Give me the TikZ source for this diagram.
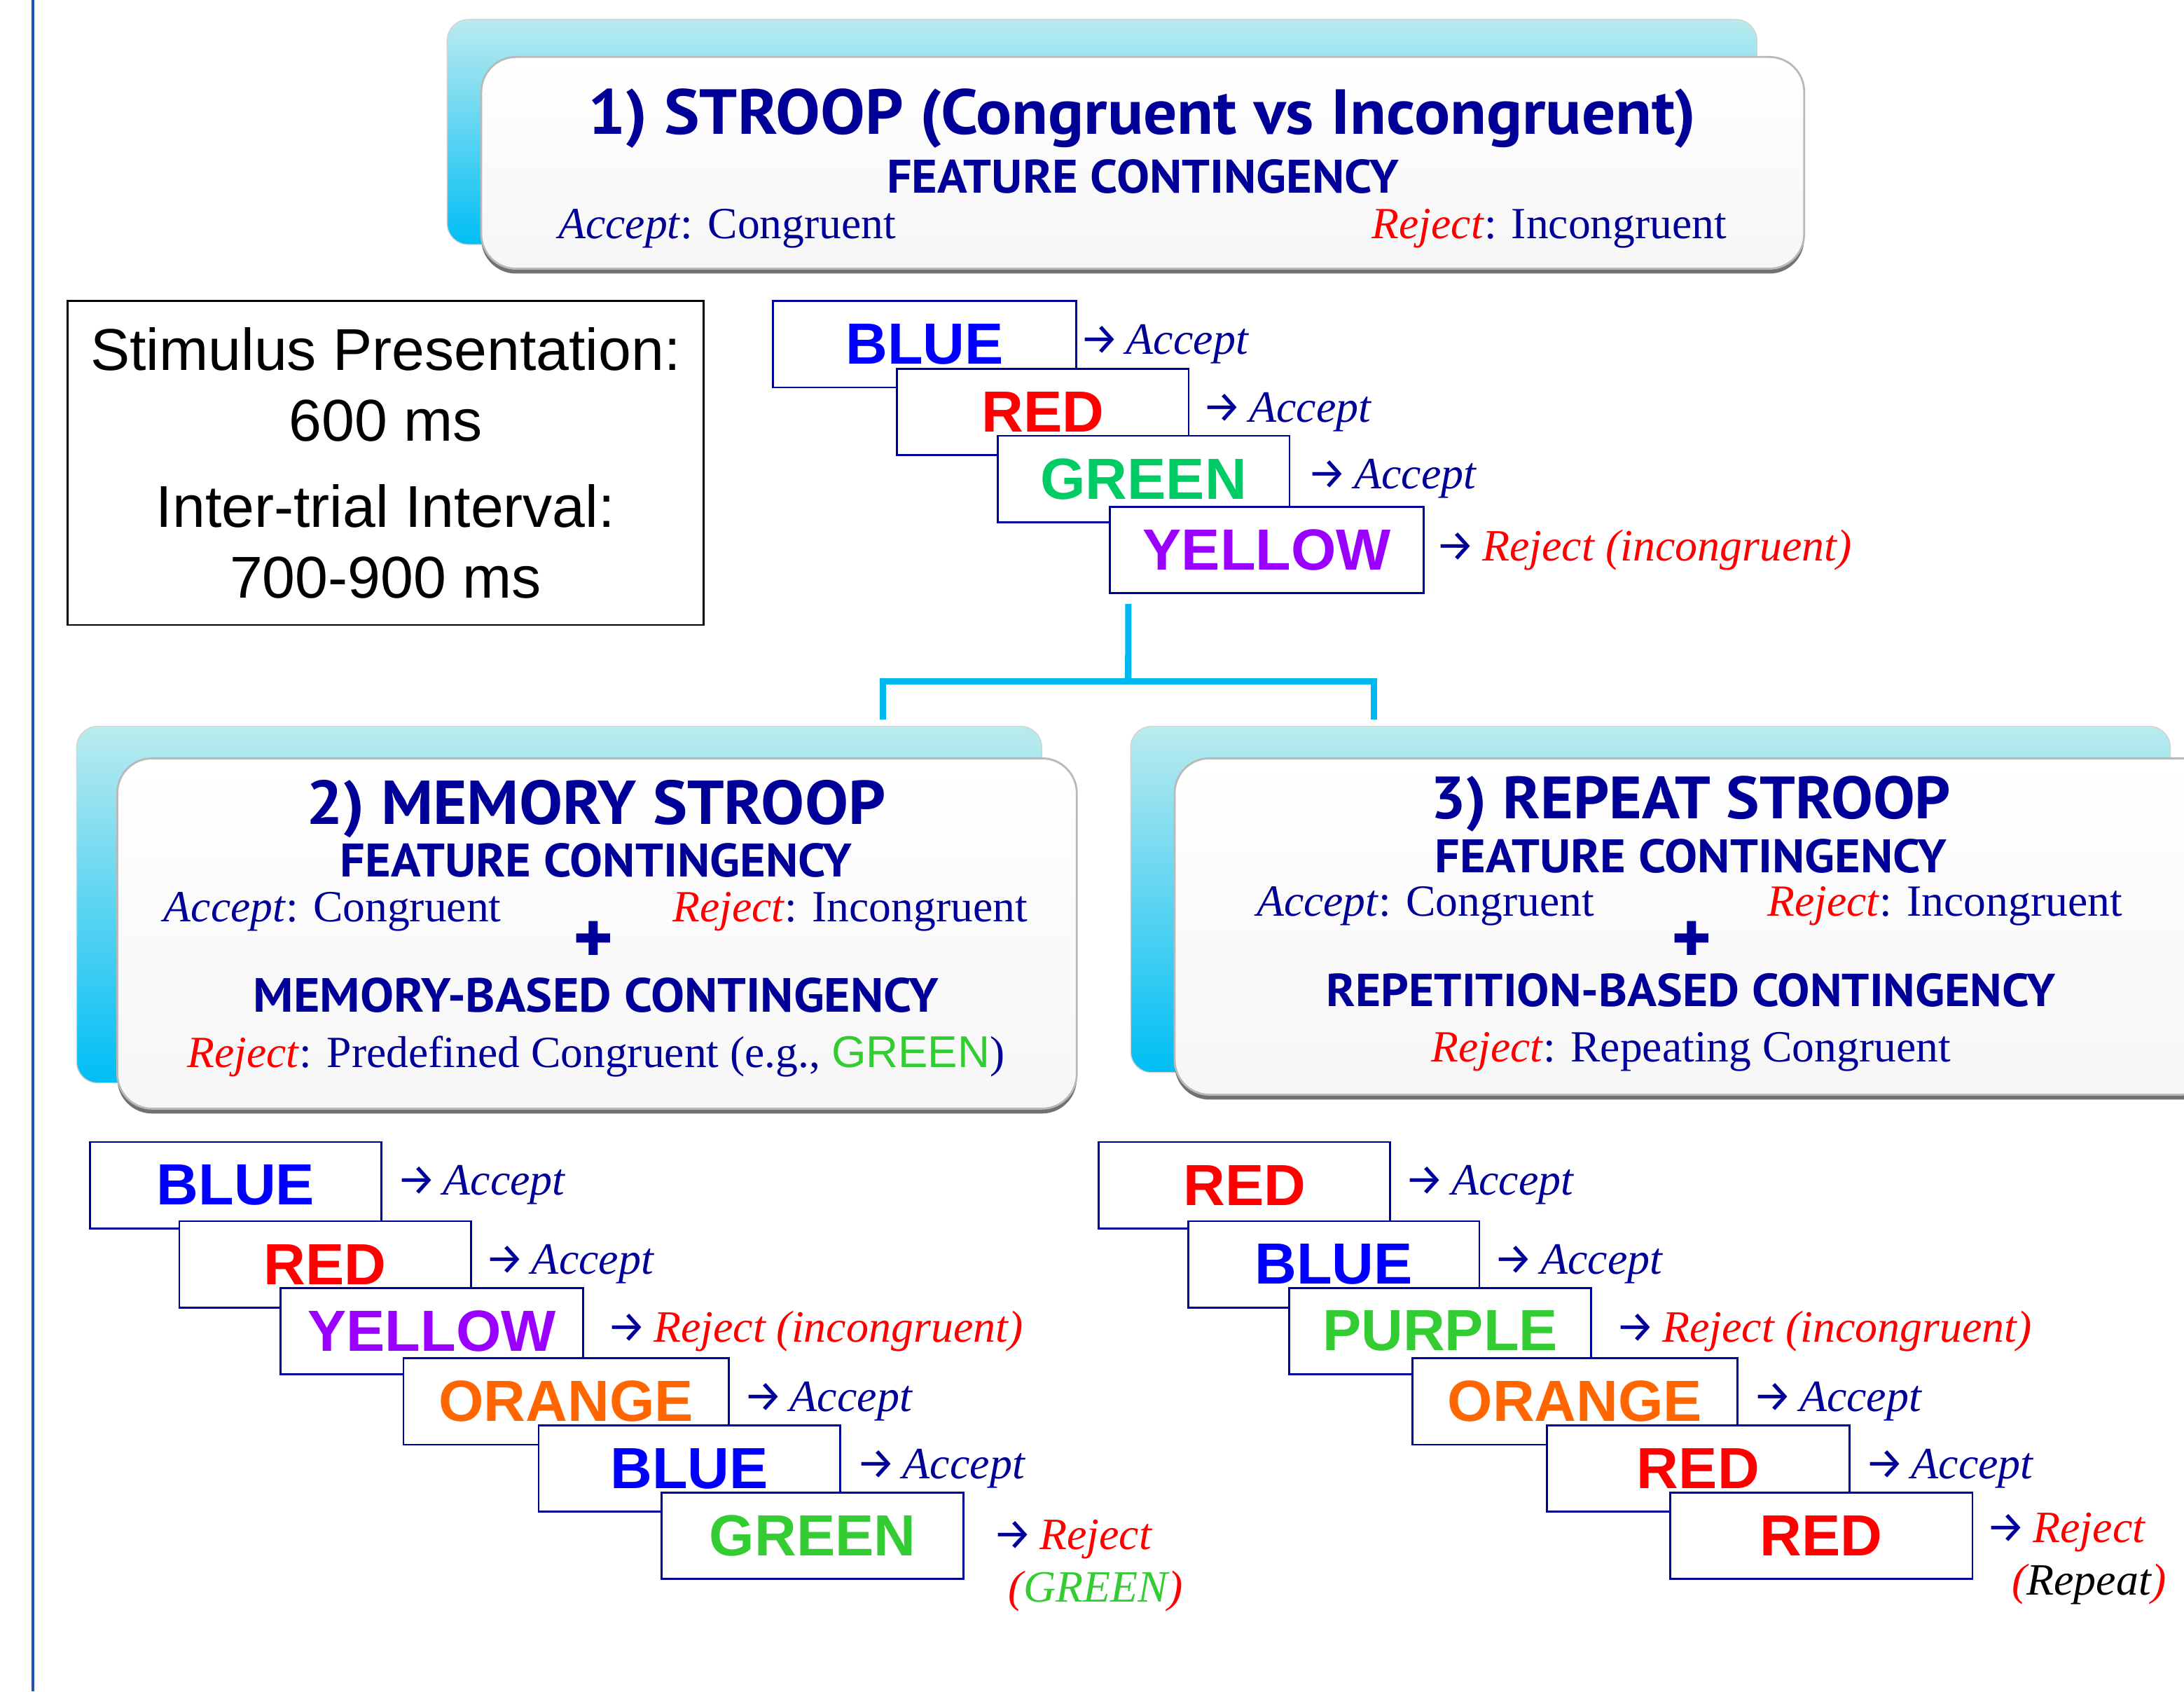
\documentclass[tikz,border=0pt]{standalone}
\usepackage{fontspec}
\setmainfont{Liberation Serif}
\newfontfamily\sansfont{Liberation Sans}
\newfontfamily\headfont{PT Sans}[FakeStretch=1.05]
\newfontfamily\symfont{DejaVu Sans}
\newfontfamily\arrowfont{Fira Sans}
\usetikzlibrary{positioning, shadows}

\definecolor{navy}{RGB}{0,0,153}
\definecolor{wblue}{RGB}{0,0,255}
\definecolor{wred}{RGB}{255,0,0}
\definecolor{wgreen}{RGB}{0,204,102}
\definecolor{lgreen}{RGB}{51,204,51}
\definecolor{wpurple}{RGB}{153,0,255}
\definecolor{worange}{RGB}{255,102,0}
\definecolor{linkcyan}{RGB}{0,184,240}
\definecolor{panelhi}{RGB}{186,235,238}
\definecolor{panello}{RGB}{0,190,245}
\definecolor{rulecol}{RGB}{30,80,190}

% arrow in front of each response, and the red reject keyword
\newcommand{\go}{{\arrowfont\upshape\fontsize{18}{18}\selectfont\color{navy}→}\hspace{0.1cm}}
\newcommand{\rej}{\textcolor{wred}{\textit{Reject}}}

\tikzset{
  backpanel/.style ={rounded corners=0.3cm, top color=panelhi, bottom color=panello,
                     draw=gray!35, anchor=north west, inner sep=0pt},
  frontpanel/.style={rounded corners=0.5cm, top color=white, bottom color=gray!7,
                     draw=gray!55, line width=0.8pt, anchor=north west, inner sep=0pt,
                     drop shadow={shadow xshift=0pt, shadow yshift=-0.07cm, opacity=0.85, fill=gray!70!black}},
  ttl/.style ={font=\headfont\bfseries\fontsize{25.3}{29}\selectfont, text=navy, anchor=base, inner sep=0pt},
  sub/.style ={font=\headfont\bfseries\fontsize{19.2}{21}\selectfont, text=navy, anchor=base, inner sep=0pt},
  ruletxt/.style={font=\fontsize{18.2}{22}\selectfont, text=navy, inner sep=0pt},
  plus/.style={font=\symfont\fontsize{19}{19}\selectfont, text=navy, inner sep=0pt},
  word/.style={draw=navy, line width=0.8pt, fill=white, anchor=north west, minimum height=1.24cm,
               inner sep=0pt, font=\sansfont\bfseries\fontsize{23.7}{28}\selectfont},
  lbl/.style ={font=\fontsize{18.3}{21.5}\selectfont\itshape, text=navy, inner sep=0pt},
  link/.style={draw=linkcyan, line width=2.6pt}
}

\begin{document}
\begin{tikzpicture}[x=0.02cm, y=-0.02cm]
  \fill[white] (0,0) rectangle (1568,1214);
  \useasboundingbox (0,0) rectangle (1568,1214);
  \draw[rulecol, line width=1.1pt] (23.5,0) -- (23.5,1214);

  % 1) plain Stroop
  \node[backpanel, minimum width=18.81cm, minimum height=3.23cm] (p1back) at (320.7,13.7) {};
  \node[frontpanel, minimum width=19.0cm, minimum height=3.04cm] (p1) at (344.8,40.2) {};
  \node[ttl, font=\headfont\bfseries\fontsize{26}{29}\selectfont] (p1title) at (820,96.4) {1) STROOP (Congruent vs Incongruent)};
  \node[sub] (p1feat) at (820.5,138.3) {FEATURE CONTINGENCY};
  \node[ruletxt, anchor=base west] (p1acc) at (400.7,171.3) {\textit{Accept}: Congruent};
  \node[ruletxt, anchor=base east] (p1rej) at (1240,171.3) {\rej: Incongruent};

  % timing box
  \node[draw=black, line width=0.8pt, minimum width=9.13cm, minimum height=4.65cm, anchor=north west,
        align=center, font=\sansfont\fontsize{24.1}{28.9}\selectfont] (timing) at (47.9,215.4)
        {Stimulus Presentation:\\600 ms\\[6.2pt]Inter-trial Interval:\\700-900 ms};

  % example trials, plain Stroop
  \node[word, minimum width=4.35cm, text=wblue] (t1) at (554.4,215.4) {BLUE};
  \node[lbl, right=0.03cm of t1] (t1a) {\go Accept};
  \node[word, minimum width=4.19cm, text=wred] (t2) at (643.2,264) {RED};
  \node[lbl, right=0.18cm of t2] (t2a) {\go Accept};
  \node[word, minimum width=4.19cm, text=wgreen] (t3) at (715.6,312.1) {GREEN};
  \node[lbl, right=0.24cm of t3] (t3a) {\go Accept};
  \node[word, minimum width=4.51cm, text=wpurple] (t4) at (796.1,363.1) {YELLOW};
  \node[lbl, right=0.15cm of t4] (t4a) {\go\textcolor{wred}{Reject (incongruent)}};

  % branch to the two variants
  \coordinate (stem) at ([shift={(14,7)}]t4.south west);
  \coordinate (fork) at (810,489);
  \coordinate (forkL) at (634,516.3);
  \coordinate (forkR) at (986.4,516.3);
  \draw[link] (stem) -- (fork);
  \draw[link] (forkL) |- (fork) -| (forkR);

  % 2) memory Stroop
  \node[backpanel, minimum width=13.86cm, minimum height=5.12cm] (p2back) at (54.7,521) {};
  \node[frontpanel, minimum width=13.78cm, minimum height=5.03cm] (p2) at (83.5,543.6) {};
  \node[ttl] (p2title) at (428,591.8) {2) MEMORY STROOP};
  \node[sub] (p2feat) at (428,629.4) {FEATURE CONTINGENCY};
  \node[ruletxt, anchor=base west] (p2acc) at (117.3,661.6) {\textit{Accept}: Congruent};
  \node[ruletxt, anchor=base east] (p2rej) at (738,661.6) {\rej: Incongruent};
  \node[plus] (p2plus) at (426,673.5) {✚};
  \node[sub, font=\headfont\bfseries\fontsize{19.6}{21}\selectfont] (p2mem) at (428,726.5) {MEMORY-BASED CONTINGENCY};
  \node[ruletxt, anchor=base] (p2rule) at (428,766.2)
       {\rej: Predefined Congruent (e.g., {\sansfont\color{lgreen}GREEN})};

  % 3) repeat Stroop
  \node[backpanel, minimum width=14.93cm, minimum height=4.97cm] (p3back) at (811.4,521) {};
  \node[frontpanel, minimum width=14.95cm, minimum height=4.83cm] (p3) at (842.6,543.6) {};
  \node[ttl, font=\headfont\bfseries\fontsize{24.4}{29}\selectfont] (p3title) at (1214,587.5) {3) REPEAT STROOP};
  \node[sub] (p3feat) at (1214,626.2) {FEATURE CONTINGENCY};
  \node[ruletxt, anchor=base west] (p3acc) at (902,657.7) {\textit{Accept}: Congruent};
  \node[ruletxt, anchor=base east] (p3rej) at (1524,657.7) {\rej: Incongruent};
  \node[plus] (p3plus) at (1214.5,673.3) {✚};
  \node[sub, font=\headfont\bfseries\fontsize{18.9}{21}\selectfont] (p3rep) at (1214,722.3) {REPETITION-BASED CONTINGENCY};
  \node[ruletxt, anchor=base] (p3rule) at (1214,761.9) {\rej: Repeating Congruent};

  % example trials, memory Stroop
  \node[word, minimum width=4.18cm, text=wblue] (m1) at (64,819) {BLUE};
  \node[lbl, right=0.2cm of m1] (m1a) {\go Accept};
  \node[word, minimum width=4.19cm, text=wred] (m2) at (128,875.8) {RED};
  \node[lbl, right=0.18cm of m2] (m2a) {\go Accept};
  \node[word, minimum width=4.35cm, text=wpurple] (m3) at (200.6,923.7) {YELLOW};
  \node[lbl, right=0.32cm of m3] (m3a) {\go\textcolor{wred}{Reject (incongruent)}};
  \node[word, minimum width=4.67cm, text=worange] (m4) at (289,974.2) {ORANGE};
  \node[lbl, right=0.19cm of m4] (m4a) {\go Accept};
  \node[word, minimum width=4.33cm, text=wblue] (m5) at (386,1022.3) {BLUE};
  \node[lbl, right=0.21cm of m5] (m5a) {\go Accept};
  \node[word, minimum width=4.34cm, text=lgreen] (m6) at (474.2,1070.5) {GREEN};
  \node[lbl, anchor=base west] (m6a) at ([xshift=0.4cm, yshift=-0.2cm]m6.east)
       {\go\begin{tabular}[t]{@{}c@{}}\textcolor{wred}{Reject}\\
        \makebox[0pt]{\textcolor{wred}{(}\textcolor{lgreen}{GREEN}\textcolor{wred}{)}}\end{tabular}};

  % example trials, repeat Stroop
  \node[word, minimum width=4.19cm, text=wred] (r1) at (788,819) {RED};
  \node[lbl, right=0.19cm of r1] (r1a) {\go Accept};
  \node[word, minimum width=4.18cm, text=wblue] (r2) at (852.4,875.8) {BLUE};
  \node[lbl, right=0.19cm of r2] (r2a) {\go Accept};
  \node[word, minimum width=4.34cm, text=lgreen] (r3) at (924.8,923.7) {PURPLE};
  \node[lbl, right=0.33cm of r3] (r3a) {\go\textcolor{wred}{Reject (incongruent)}};
  \node[word, minimum width=4.67cm, text=worange] (r4) at (1013.3,974.2) {ORANGE};
  \node[lbl, right=0.2cm of r4] (r4a) {\go Accept};
  \node[word, minimum width=4.34cm, text=wred] (r5) at (1110,1022.3) {RED};
  \node[lbl, right=0.2cm of r5] (r5a) {\go Accept};
  \node[word, minimum width=4.34cm, text=wred] (r6) at (1198.4,1070.5) {RED};
  \node[lbl, anchor=base west] (r6a) at ([xshift=0.18cm, yshift=-0.1cm]r6.east)
       {\go\begin{tabular}[t]{@{}c@{}}\textcolor{wred}{Reject}\\
        \makebox[0pt]{\textcolor{wred}{(}\textcolor{black}{Repeat}\textcolor{wred}{)}}\end{tabular}};
\end{tikzpicture}
\end{document}
